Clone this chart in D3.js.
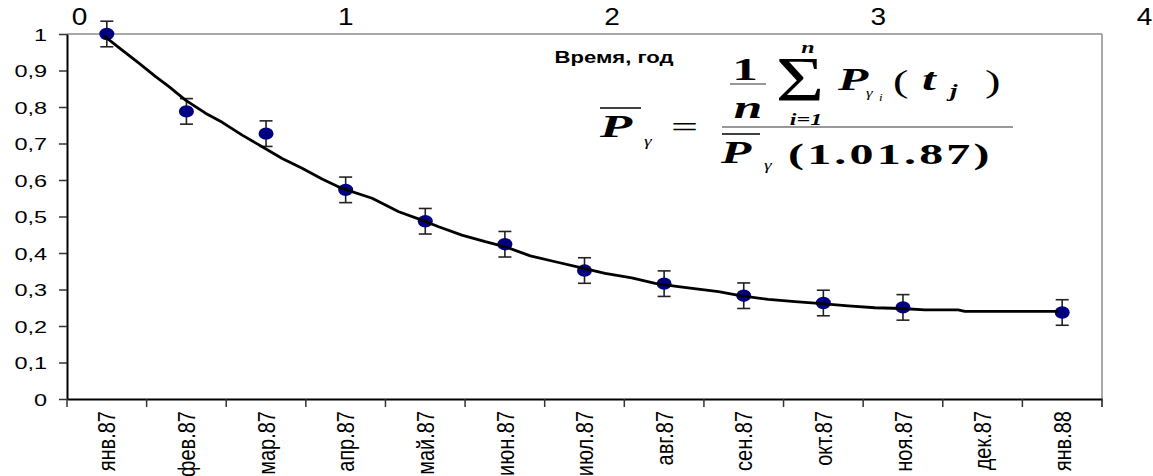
<!DOCTYPE html>
<html>
<head>
<meta charset="utf-8">
<script src="https://cdn.jsdelivr.net/npm/d3@7"></script>
<style>
  html, body { margin: 0; padding: 0; background: #fff; }
  svg { display: block; }
  .sans { font-family: "Liberation Sans", Arial, sans-serif; }
  .serif { font-family: "Liberation Serif", "Times New Roman", serif; }
</style>
</head>
<body>
<svg class="chart"></svg>
<script>
// months on the bottom category axis
var months = ['янв.87', 'фев.87', 'мар.87', 'апр.87', 'май.87', 'июн.87', 'июл.87',
              'авг.87', 'сен.87', 'окт.87', 'ноя.87', 'дек.87', 'янв.88'];
// measured points (null = no measurement)
var pointValues = [1.0, 0.788, 0.727, 0.573, 0.487, 0.424, 0.352, 0.316, 0.283, 0.263, 0.251, null, 0.237];
var pointError = 0.035;

// model curve, plotted against the top axis (years)
var curveYears = [0.094, 0.162, 0.225, 0.288, 0.338, 0.400, 0.475, 0.538, 0.613, 0.688,
                  0.763, 0.838, 0.913, 0.988, 1.101, 1.201, 1.288, 1.351, 1.438, 1.526,
                  1.601, 1.695, 1.789, 1.876, 1.976, 2.076, 2.164, 2.251, 2.326, 2.402,
                  2.483, 2.589, 2.689, 2.777, 2.889, 2.989, 3.089, 3.177, 3.302, 3.327, 3.681];
var curveValues = [0.995, 0.956, 0.920, 0.883, 0.856, 0.819, 0.783, 0.758, 0.723, 0.691,
                   0.659, 0.632, 0.603, 0.577, 0.550, 0.513, 0.490, 0.472, 0.449, 0.431,
                   0.417, 0.392, 0.376, 0.361, 0.344, 0.332, 0.317, 0.308, 0.301, 0.294,
                   0.283, 0.273, 0.267, 0.262, 0.255, 0.250, 0.248, 0.244, 0.244, 0.240, 0.240];

var yTicks = [0, 0.1, 0.2, 0.3, 0.4, 0.5, 0.6, 0.7, 0.8, 0.9, 1];
var yearTicks = [0, 1, 2, 3, 4];
var axisTitle = 'Время, год';

var width = 1153;
var height = 476;
var plotLeft = 67, plotRight = 1102, plotTop = 34, plotBottom = 399;
var stretch = 1.38;  // the original is squeezed wider than tall

var chart = d3.select('.chart').attr('width', width).attr('height', height);

var x = d3.scaleBand().domain(months).range([plotLeft, plotRight]);
var y = d3.scaleLinear().domain([0, 1]).range([plotBottom, plotTop]);
var xTop = d3.scaleLinear().domain([0, 4]).range([79, 1144]);

// frame: gray top and right edges
chart.append('line').attr('x1', plotLeft).attr('x2', plotRight).attr('y1', plotTop).attr('y2', plotTop)
    .style('stroke', '#8c8c8c').style('stroke-width', 1.5);
chart.append('line').attr('x1', plotRight).attr('x2', plotRight).attr('y1', plotTop).attr('y2', plotBottom + 8)
    .style('stroke', '#8c8c8c').style('stroke-width', 1.5);

// left axis
var yAxis = d3.axisLeft(y).tickValues(yTicks).tickSize(8).tickSizeOuter(0)
    .tickFormat(d => (d === 0 || d === 1) ? String(d) : d3.format('.1f')(d).replace('.', ','));
var gy = chart.append('g').attr('class', 'sans').attr('transform', 'translate(' + plotLeft + ',0)').call(yAxis);
gy.select('.domain').style('stroke', '#000').style('stroke-width', 2);
gy.selectAll('.tick line').style('stroke', '#333').style('stroke-width', 1.5);
gy.selectAll('.tick text')
    .attr('x', null).attr('dy', '0.36em')
    .attr('text-anchor', 'end')
    .attr('transform', 'translate(-20,0) scale(' + stretch + ',1)')
    .style('font-size', '17px').style('fill', '#000');

// bottom axis: labels at band centres, ticks on band edges
var xAxis = d3.axisBottom(x).tickSize(0).tickSizeOuter(0);
var gx = chart.append('g').attr('class', 'sans').attr('transform', 'translate(0,' + plotBottom + ')').call(xAxis);
gx.select('.domain').style('stroke', '#000').style('stroke-width', 2);
gx.selectAll('.tick text')
    .attr('x', 0).attr('y', 0).attr('dy', '0.36em')
    .attr('text-anchor', 'end')
    .attr('transform', 'translate(0,12) scale(1.2,1) rotate(-90)')
    .style('font-size', '20px').style('fill', '#000');
var edges = months.map(m => x(m)).concat([x.range()[1]]);
gx.selectAll('line.edge')
    .data(edges)
    .join('line')
    .attr('class', 'edge')
    .attr('x1', d => d).attr('x2', d => d)
    .attr('y1', 0).attr('y2', 8)
    .style('stroke', '#333').style('stroke-width', 1.5);

// top axis (years)
var xTopAxis = d3.axisTop(xTop).tickValues(yearTicks).tickSize(0).tickFormat(d3.format('d'));
var gt = chart.append('g').attr('class', 'sans').attr('transform', 'translate(0,' + plotTop + ')').call(xTopAxis);
gt.select('.domain').remove();
gt.selectAll('.tick text')
    .attr('x', 0).attr('y', 0)
    .attr('text-anchor', 'middle')
    .attr('transform', 'translate(0,-9) scale(1.22,1)')
    .style('font-size', '23px').style('fill', '#000');

// axis title
chart.append('text').attr('class', 'sans')
    .attr('text-anchor', 'middle')
    .attr('transform', 'translate(614,63) scale(1.3,1)')
    .style('font-size', '17px').style('font-weight', 'bold')
    .text(axisTitle);

// points with error bars
var points = months.map((m, i) => ({month: m, value: pointValues[i]})).filter(d => d.value !== null);
var cx = d => x(d.month) + x.bandwidth() / 2;

var bars = chart.append('g').selectAll('g.err')
    .data(points)
    .join('g')
    .attr('class', 'err')
    .style('stroke', '#222').style('stroke-width', 1.6);
bars.append('line')
    .attr('x1', cx).attr('x2', cx)
    .attr('y1', d => y(d.value + pointError)).attr('y2', d => y(d.value - pointError));
bars.append('line')
    .attr('x1', d => cx(d) - 6.5).attr('x2', d => cx(d) + 6.5)
    .attr('y1', d => y(d.value + pointError)).attr('y2', d => y(d.value + pointError));
bars.append('line')
    .attr('x1', d => cx(d) - 6.5).attr('x2', d => cx(d) + 6.5)
    .attr('y1', d => y(d.value - pointError)).attr('y2', d => y(d.value - pointError));

chart.append('g').selectAll('ellipse')
    .data(points)
    .join('ellipse')
    .attr('cx', cx)
    .attr('cy', d => y(d.value))
    .attr('rx', 7.5).attr('ry', 6.2)
    .style('fill', '#000080');

// model line on top
var curve = curveYears.map((t, i) => [t, curveValues[i]]);
chart.append('path')
    .datum(curve)
    .attr('d', d3.line().x(d => xTop(d[0])).y(d => y(d[1])))
    .style('fill', 'none').style('stroke', '#000').style('stroke-width', 2.8)
    .style('stroke-linejoin', 'round');

// formula annotation
var f = chart.append('g').attr('class', 'serif').style('fill', '#000');
function ftext(xp, yp, str, size, opts) {
  opts = opts || {};
  var sx = opts.sx || 1.6;
  return f.append('text')
      .attr('transform', 'translate(' + xp + ',' + yp + ') scale(' + sx + ',1)')
      .attr('text-anchor', opts.anchor || 'start')
      .style('font-size', size + 'px')
      .style('font-weight', opts.bold === false ? 'normal' : 'bold')
      .style('font-style', opts.italic ? 'italic' : 'normal')
      .style('letter-spacing', opts.ls || null)
      .text(str);
}
function fline(x1, x2, yy, col) {
  f.append('line').attr('x1', x1).attr('x2', x2).attr('y1', yy).attr('y2', yy)
      .style('stroke', col || '#000').style('stroke-width', 1.6);
}
// left side
fline(600, 641, 108);
ftext(600, 137, 'P', 31, {italic: true, sx: 1.7});
ftext(644, 146, 'γ', 15, {italic: true, bold: false, sx: 1.3});
ftext(671, 137, '=', 30, {bold: false, sx: 1.6});
// numerator
ftext(745, 80, '1', 32, {anchor: 'middle', sx: 1.6});
fline(730, 766, 84, '#777');
ftext(748, 118, 'n', 32, {anchor: 'middle', italic: true, sx: 1.6});
ftext(800, 101, 'Σ', 64, {anchor: 'middle', bold: false, sx: 1.3});
ftext(808, 53, 'n', 16, {anchor: 'middle', italic: true, sx: 1.5});
ftext(806, 125, 'i=1', 16, {anchor: 'middle', italic: true, sx: 1.5});
ftext(838, 90, 'P', 31, {italic: true, sx: 1.6});
ftext(866, 97, 'γ', 13, {italic: true, bold: false, sx: 1.3});
ftext(879, 101, 'i', 10, {italic: true, bold: false, sx: 1.3});
ftext(893, 92, '(', 31, {bold: false, sx: 1.5});
ftext(922, 90, 't', 31, {italic: true, sx: 1.6});
ftext(950, 97, 'j', 18, {italic: true, sx: 1.5});
ftext(985, 92, ')', 31, {bold: false, sx: 1.5});
// fraction bar
fline(722, 1013, 127, '#777');
// denominator
fline(722, 760, 134);
ftext(721, 163, 'P', 31, {italic: true, sx: 1.6});
ftext(764, 170, 'γ', 15, {italic: true, bold: false, sx: 1.3});
ftext(788, 164, '(1.01.87)', 30, {sx: 1.6, ls: '2px'});
</script>
</body>
</html>
